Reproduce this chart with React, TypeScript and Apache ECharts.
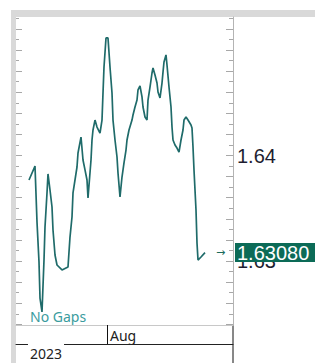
import React, { useEffect, useRef } from "react";
import * as echarts from "echarts";

// x: 12-hour sessions counted from 1 Aug 2023 (0 = Aug 1)
const sessions = [
  -78, -72, -70, -68, -67, -65, -63, -62, -60, -59,
  -57, -55, -54, -52, -50, -45, -39, -37, -35, -34,
  -30, -29, -26, -24, -22, -20, -19, -16, -15, -14,
  -12, -10, -7, -5, -4, -3, -1, 1, 3, 5,
  6, 8, 10, 11, 13, 15, 17, 19, 20, 22,
  25, 26, 28, 30, 31, 33, 35, 36, 38, 40,
  41, 43, 45, 46, 48, 50, 51, 53, 55, 56,
  57, 59, 60, 62, 64, 65, 66, 68, 70, 72,
  74, 76, 77, 79, 81, 84, 85, 86, 87, 89,
  90, 91, 94, 98,
];
const prices = [
  1.63768, 1.639, 1.6337, 1.62991, 1.62649, 1.62517, 1.63009, 1.63322, 1.63645, 1.63825,
  1.63673, 1.63512, 1.63294, 1.63057, 1.62962, 1.62915, 1.62943, 1.63227, 1.63417, 1.63645,
  1.63891, 1.64024, 1.64175, 1.63957, 1.63863, 1.63768, 1.63597, 1.63957, 1.64147, 1.64242,
  1.64336, 1.6427, 1.64213, 1.64336, 1.64592, 1.64839, 1.65114, 1.65114, 1.64839, 1.64592,
  1.64336, 1.64147, 1.63986, 1.63834, 1.63607, 1.63796, 1.63929, 1.64052, 1.64147, 1.64242,
  1.64336, 1.64384, 1.6446, 1.64526, 1.64621, 1.64659, 1.64555, 1.6446, 1.64365, 1.64336,
  1.64526, 1.64649, 1.64782, 1.64829, 1.64763, 1.64687, 1.64602, 1.64545, 1.64687, 1.64791,
  1.64886, 1.64953, 1.64858, 1.64649, 1.6446, 1.6427, 1.64147, 1.641, 1.64071, 1.64033,
  1.64147, 1.64242, 1.64336, 1.64365, 1.64336, 1.64289, 1.64261, 1.64081, 1.63863, 1.63483,
  1.63171, 1.63009, 1.63038, 1.6308,
];
const lastPrice = 1.6308;
const priceLabels = [1.63, 1.64];
const monthTicks = [0];
const monthLabels = ["Aug"];
const yearTicks = [-61];
const yearLabels = ["2023"];

const X_MIN = -91;
const X_MAX = 126;
const Y_MIN = 1.623934;
const Y_MAX = 1.653128;

const minorTicks: number[] = [];
const majorTicks: number[] = [];
for (let k = 1624; k <= 1653; k++) {
  const v = k / 1000;
  if (k % 2 === 0) majorTicks.push(v);
  else minorTicks.push(v);
}

export default function App() {
  const ref = useRef<HTMLDivElement>(null);
  useEffect(() => {
    if (!ref.current) return;
    const chart = echarts.init(ref.current, null, { renderer: "svg" });
    const yBase = {
      type: "value",
      min: Y_MIN,
      max: Y_MAX,
      splitLine: { show: false },
      axisLabel: { show: false },
      axisLine: { show: false, onZero: false },
    };
    const tickGray = "#a8a8a8";
    chart.setOption({
      animation: false,
      grid: { left: 16, right: 82, top: 17, bottom: 38, containLabel: false, outerBoundsMode: "none" },
      xAxis: [
        {
          type: "value",
          min: X_MIN,
          max: X_MAX,
          position: "bottom",
          splitLine: { show: false },
          axisLine: { show: true, onZero: false, lineStyle: { color: "#c8c8c8", width: 1 } },
          axisTick: { show: true, customValues: monthTicks, length: 19, lineStyle: { color: "#111", width: 1 } },
          axisLabel: {
            customValues: monthTicks,
            formatter: (v: number) => monthLabels[monthTicks.indexOf(v)] ?? "",
            align: "left",
            padding: [0, 0, 0, 3],
            margin: 3,
            fontSize: 14,
            color: "#222",
            fontFamily: "Noto Sans",
          },
        },
        {
          type: "value",
          min: X_MIN,
          max: X_MAX,
          position: "bottom",
          offset: 19,
          splitLine: { show: false },
          axisLine: { show: true, onZero: false, lineStyle: { color: "#222", width: 1 } },
          axisTick: { show: false },
          axisLabel: {
            customValues: yearTicks,
            formatter: (v: number) => yearLabels[yearTicks.indexOf(v)] ?? "",
            margin: -2,
            padding: [4, 2, 0, 2],
            backgroundColor: "#fff",
            fontSize: 14,
            color: "#222",
            fontFamily: "Noto Sans",
          },
        },
      ],
      yAxis: [
        {
          ...yBase,
          position: "right",
          axisLine: { show: true, onZero: false, lineStyle: { color: "#b4b4b4", width: 1 } },
          axisTick: { show: true, inside: true, customValues: minorTicks, length: 4, lineStyle: { color: tickGray } },
        },
        {
          ...yBase,
          position: "right",
          axisTick: { show: true, inside: true, customValues: majorTicks, length: 7, lineStyle: { color: tickGray } },
        },
        {
          ...yBase,
          position: "left",
          axisTick: { show: true, inside: true, customValues: minorTicks, length: 3, lineStyle: { color: tickGray } },
        },
        {
          ...yBase,
          position: "left",
          axisTick: { show: true, inside: true, customValues: majorTicks, length: 6, lineStyle: { color: tickGray } },
        },
        {
          ...yBase,
          position: "right",
          axisTick: { show: false },
          axisLabel: {
            show: true,
            customValues: priceLabels,
            formatter: (v: number) => v.toFixed(2),
            margin: 4,
            fontSize: 20,
            color: "#1e1e30",
            fontFamily: "Liberation Sans",
          },
        },
        {
          ...yBase,
          position: "right",
          z: 10,
          axisTick: { show: false },
          axisLabel: {
            show: true,
            customValues: [lastPrice],
            formatter: (v: number) => v.toFixed(5),
            margin: 2,
            fontSize: 20,
            lineHeight: 18,
            padding: [1, 6, 0, 2],
            color: "#ffffff",
            backgroundColor: "#0c6b57",
            fontFamily: "Liberation Sans",
          },
        },
      ],
      series: [
        {
          type: "line",
          xAxisIndex: 0,
          yAxisIndex: 0,
          data: sessions.map((s, i) => [s, prices[i]]),
          showSymbol: false,
          symbol: "none",
          lineStyle: { color: "#1f6b6a", width: 1.7 },
          endLabel: {
            show: true,
            formatter: () => "→",
            offset: [3, 0],
            color: "#1b6b5b",
            fontSize: 11,
            fontFamily: "DejaVu Sans",
          },
          silent: true,
        },
      ],
      graphic: [
        { type: "rect", shape: { x: 11, y: 10, width: 304, height: 7 }, style: { fill: "#d9d9d9" }, silent: true },
        { type: "rect", shape: { x: 11, y: 10, width: 5, height: 353 }, style: { fill: "#d9d9d9" }, silent: true },
        { type: "rect", z: 100, shape: { x: 30, y: 342, width: 33, height: 4 }, style: { fill: "#ffffff" }, silent: true },
        { type: "line", shape: { x1: 233, y1: 325, x2: 233, y2: 363 }, style: { stroke: "#111", lineWidth: 1 }, silent: true },
        {
          type: "text",
          x: 30,
          y: 316,
          style: {
            text: "No Gaps",
            fill: "#3a9c9e",
            fontSize: 14,
            fontFamily: "Noto Sans",
            verticalAlign: "middle",
            align: "left",
          },
          silent: true,
        },
      ],
    });
    return () => chart.dispose();
  }, []);
  return <div ref={ref} style={{ position: "absolute", left: 0, top: 0, width: 315, height: 363 }} />;
}
